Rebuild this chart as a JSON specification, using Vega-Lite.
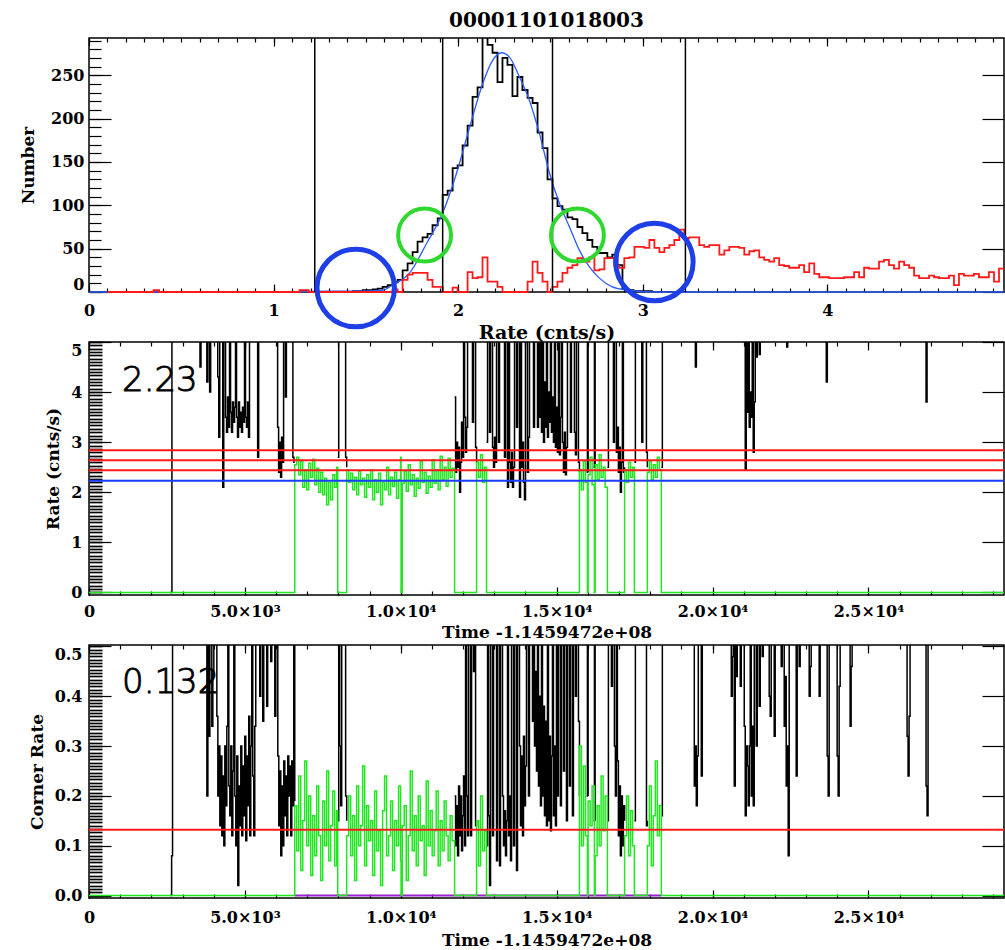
{
"$schema":"https://vega.github.io/schema/vega-lite/v6.json",
"background":"white",
"padding":{"left":18,"top":10,"right":0,"bottom":0},
"spacing":50,
"bounds":"flush",
"config":{
 "view":{"stroke":"black","strokeWidth":1.5},
 "axis":{"domain":false,"grid":false,"labelFont":"DejaVu Serif","labelFontWeight":"bold","labelFontSize":16,"labelColor":"black","titleFont":"DejaVu Serif","titleFontWeight":"bold","titleFontSize":17,"titleColor":"black","tickColor":"black","tickWidth":1.2,"labelFlush":false,"labelOverlap":false}
},
"datasets":{
"hist_black":[{"rate":1.223,"n":0},{"rate":1.43,"n":1},{"rate":1.483,"n":2},{"rate":1.510,"n":2},{"rate":1.537,"n":3},{"rate":1.564,"n":4},{"rate":1.591,"n":6},{"rate":1.618,"n":8},{"rate":1.645,"n":11},{"rate":1.672,"n":14},{"rate":1.699,"n":25},{"rate":1.726,"n":33},{"rate":1.753,"n":46},{"rate":1.780,"n":58},{"rate":1.807,"n":63},{"rate":1.834,"n":67},{"rate":1.861,"n":77},{"rate":1.889,"n":85},{"rate":1.916,"n":112},{"rate":1.943,"n":117},{"rate":1.970,"n":143},{"rate":1.997,"n":146},{"rate":2.024,"n":169},{"rate":2.051,"n":192},{"rate":2.078,"n":225},{"rate":2.105,"n":236},{"rate":2.132,"n":300},{"rate":2.159,"n":285},{"rate":2.186,"n":276},{"rate":2.213,"n":242},{"rate":2.240,"n":270},{"rate":2.267,"n":262},{"rate":2.294,"n":226},{"rate":2.321,"n":248},{"rate":2.348,"n":233},{"rate":2.376,"n":224},{"rate":2.403,"n":218},{"rate":2.430,"n":184},{"rate":2.457,"n":166},{"rate":2.484,"n":130},{"rate":2.511,"n":108},{"rate":2.538,"n":99},{"rate":2.565,"n":95},{"rate":2.592,"n":86},{"rate":2.619,"n":84},{"rate":2.646,"n":75},{"rate":2.673,"n":68},{"rate":2.700,"n":60},{"rate":2.727,"n":52},{"rate":2.754,"n":45},{"rate":2.781,"n":45},{"rate":2.808,"n":40},{"rate":2.835,"n":43},{"rate":2.863,"n":31},{"rate":2.890,"n":4},{"rate":2.917,"n":2},{"rate":2.95,"n":1},{"rate":3.05,"n":0},{"rate":3.231,"n":0}],
"hist_model":[{"rate":0,"n":0},{"rate":1.0,"n":0},{"rate":1.304,"n":1},{"rate":1.45,"n":1},{"rate":1.591,"n":2},{"rate":1.645,"n":8},{"rate":1.737,"n":22},{"rate":1.829,"n":56},{"rate":1.916,"n":91},{"rate":1.991,"n":137},{"rate":2.062,"n":190},{"rate":2.132,"n":240},{"rate":2.186,"n":267},{"rate":2.235,"n":276},{"rate":2.278,"n":271},{"rate":2.332,"n":248},{"rate":2.386,"n":221},{"rate":2.440,"n":183},{"rate":2.495,"n":137},{"rate":2.549,"n":102},{"rate":2.603,"n":75},{"rate":2.657,"n":48},{"rate":2.711,"n":29},{"rate":2.765,"n":16},{"rate":2.835,"n":6},{"rate":2.927,"n":2},{"rate":3.05,"n":0},{"rate":4.957,"n":0}],
"hist_red":[{"rate":0.1,"n":0},{"rate":0.35,"n":2},{"rate":0.38,"n":0},{"rate":1.14,"n":2},{"rate":1.19,"n":0},{"rate":1.645,"n":3},{"rate":1.672,"n":0},{"rate":1.699,"n":14},{"rate":1.726,"n":20},{"rate":1.753,"n":22},{"rate":1.834,"n":14},{"rate":1.861,"n":6},{"rate":1.916,"n":0},{"rate":1.970,"n":5},{"rate":1.997,"n":0},{"rate":2.051,"n":23},{"rate":2.078,"n":16},{"rate":2.105,"n":17},{"rate":2.132,"n":40},{"rate":2.159,"n":12},{"rate":2.213,"n":6},{"rate":2.240,"n":0},{"rate":2.376,"n":12},{"rate":2.403,"n":35},{"rate":2.430,"n":22},{"rate":2.457,"n":12},{"rate":2.484,"n":0},{"rate":2.511,"n":6},{"rate":2.538,"n":12},{"rate":2.565,"n":22},{"rate":2.592,"n":28},{"rate":2.619,"n":31},{"rate":2.646,"n":39},{"rate":2.673,"n":35},{"rate":2.711,"n":40},{"rate":2.738,"n":25},{"rate":2.765,"n":26},{"rate":2.792,"n":39},{"rate":2.819,"n":39},{"rate":2.846,"n":30},{"rate":2.873,"n":28},{"rate":2.900,"n":39},{"rate":2.927,"n":40},{"rate":2.955,"n":52},{"rate":2.982,"n":52},{"rate":3.009,"n":51},{"rate":3.036,"n":60},{"rate":3.063,"n":51},{"rate":3.090,"n":46},{"rate":3.117,"n":51},{"rate":3.144,"n":54},{"rate":3.171,"n":60},{"rate":3.198,"n":72},{"rate":3.225,"n":62},{"rate":3.252,"n":63},{"rate":3.279,"n":63},{"rate":3.306,"n":54},{"rate":3.333,"n":52},{"rate":3.360,"n":54},{"rate":3.387,"n":54},{"rate":3.415,"n":43},{"rate":3.442,"n":48},{"rate":3.469,"n":52},{"rate":3.496,"n":52},{"rate":3.523,"n":51},{"rate":3.550,"n":43},{"rate":3.577,"n":47},{"rate":3.604,"n":48},{"rate":3.631,"n":40},{"rate":3.658,"n":37},{"rate":3.685,"n":35},{"rate":3.712,"n":39},{"rate":3.739,"n":31},{"rate":3.766,"n":30},{"rate":3.793,"n":28},{"rate":3.820,"n":28},{"rate":3.847,"n":31},{"rate":3.874,"n":23},{"rate":3.902,"n":33},{"rate":3.929,"n":21},{"rate":3.956,"n":17},{"rate":3.983,"n":17},{"rate":4.010,"n":16},{"rate":4.037,"n":16},{"rate":4.064,"n":16},{"rate":4.091,"n":17},{"rate":4.118,"n":17},{"rate":4.145,"n":23},{"rate":4.172,"n":17},{"rate":4.199,"n":28},{"rate":4.226,"n":27},{"rate":4.253,"n":27},{"rate":4.280,"n":35},{"rate":4.307,"n":37},{"rate":4.334,"n":31},{"rate":4.361,"n":27},{"rate":4.389,"n":35},{"rate":4.416,"n":31},{"rate":4.443,"n":28},{"rate":4.470,"n":19},{"rate":4.497,"n":16},{"rate":4.524,"n":16},{"rate":4.551,"n":19},{"rate":4.578,"n":17},{"rate":4.605,"n":16},{"rate":4.632,"n":16},{"rate":4.659,"n":19},{"rate":4.686,"n":8},{"rate":4.713,"n":21},{"rate":4.740,"n":19},{"rate":4.767,"n":19},{"rate":4.794,"n":21},{"rate":4.821,"n":17},{"rate":4.848,"n":17},{"rate":4.875,"n":23},{"rate":4.903,"n":12},{"rate":4.930,"n":27},{"rate":4.957,"n":27}],
"hist_cuts":[{"rate":1.223},{"rate":1.916},{"rate":2.511},{"rate":3.231}],
"ring_blue":[{"rate":1.445,"n":4.6},{"rate":3.063,"n":34.6}],
"ring_green":[{"rate":1.818,"n":65.7},{"rate":2.646,"n":65.7}],
"mid_black":[
{"t":2600,"r":0,"s":"A"},{"t":2660,"r":9,"s":"A"},{"t":3560,"r":4.5,"s":"A"},{"t":3592,"r":9,"s":"A"},{"t":3780,"r":4.2,"s":"A"},{"t":3812,"r":9,"s":"A"},{"t":3870,"r":4.0,"s":"A"},{"t":3902,"r":9,"s":"A"},{"t":4130,"r":4.3,"s":"A"},{"t":4162,"r":3.1,"s":"A"},{"t":4194,"r":9,"s":"A"},{"t":4290,"r":2.1,"s":"A"},{"t":4322,"r":9,"s":"A"},{"t":4380,"r":3.5,"s":"A"},{"t":4412,"r":3.2,"s":"A"},{"t":4444,"r":3.9,"s":"A"},{"t":4476,"r":3.3,"s":"A"},{"t":4508,"r":9,"s":"A"},{"t":4540,"r":3.6,"s":"A"},{"t":4572,"r":3.2,"s":"A"},{"t":4604,"r":3.8,"s":"A"},{"t":4636,"r":3.4,"s":"A"},{"t":4668,"r":3.7,"s":"A"},{"t":4700,"r":9,"s":"A"},{"t":4732,"r":3.5,"s":"A"},{"t":4764,"r":3.1,"s":"A"},{"t":4796,"r":3.8,"s":"A"},{"t":4828,"r":3.3,"s":"A"},{"t":4860,"r":3.6,"s":"A"},{"t":4892,"r":3.2,"s":"A"},{"t":4924,"r":3.7,"s":"A"},{"t":4956,"r":3.4,"s":"A"},{"t":4988,"r":9,"s":"A"},{"t":5020,"r":3.5,"s":"A"},{"t":5052,"r":3.3,"s":"A"},{"t":5084,"r":3.8,"s":"A"},{"t":5116,"r":3.1,"s":"A"},{"t":5148,"r":9,"s":"A"},{"t":5410,"r":2.7,"s":"A"},{"t":5442,"r":9,"s":"A"},{"t":6050,"r":3.3,"s":"A"},{"t":6082,"r":2.4,"s":"A"},{"t":6114,"r":3.0,"s":"A"},{"t":6146,"r":2.3,"s":"A"},{"t":6178,"r":3.1,"s":"A"},{"t":6210,"r":2.6,"s":"A"},{"t":6242,"r":9,"s":"A"},{"t":6300,"r":3.9,"s":"A"},{"t":6332,"r":9,"s":"A"},{"t":6540,"r":2.7,"s":"A"},{"t":6572,"r":2.6,"s":"A"},{"t":6600,"r":2.6,"s":"A"},
{"t":7978,"r":2.7,"s":"B"},{"t":8010,"r":9,"s":"B"},{"t":8232,"r":2.7,"s":"B"},{"t":8266,"r":2.5,"s":"B"},
{"t":11727,"r":3.9,"s":"C"},{"t":11759,"r":2.4,"s":"C"},{"t":11791,"r":3.0,"s":"C"},{"t":11823,"r":2.5,"s":"C"},{"t":11855,"r":2.9,"s":"C"},{"t":11887,"r":2.0,"s":"C"},{"t":11919,"r":2.6,"s":"C"},{"t":11951,"r":3.4,"s":"C"},{"t":11983,"r":2.7,"s":"C"},{"t":12015,"r":9,"s":"C"},{"t":12047,"r":3.5,"s":"C"},{"t":12079,"r":2.8,"s":"C"},{"t":12111,"r":3.3,"s":"C"},{"t":12143,"r":9,"s":"C"},{"t":12300,"r":3.4,"s":"C"},{"t":12332,"r":9,"s":"C"},{"t":12400,"r":2.9,"s":"C"},{"t":12432,"r":2.6,"s":"C"},
{"t":12752,"r":3.0,"s":"D"},{"t":12784,"r":9,"s":"D"},{"t":12848,"r":3.2,"s":"D"},{"t":12880,"r":9,"s":"D"},{"t":12944,"r":2.9,"s":"D"},{"t":12976,"r":2.5,"s":"D"},{"t":13008,"r":3.1,"s":"D"},{"t":13040,"r":2.6,"s":"D"},{"t":13072,"r":9,"s":"D"},{"t":13136,"r":3.0,"s":"D"},{"t":13168,"r":9,"s":"D"},{"t":13328,"r":2.7,"s":"D"},{"t":13360,"r":9,"s":"D"},{"t":13424,"r":2.1,"s":"D"},{"t":13456,"r":9,"s":"D"},{"t":13489,"r":2.6,"s":"D"},{"t":13521,"r":2.2,"s":"D"},{"t":13553,"r":2.8,"s":"D"},{"t":13585,"r":2.1,"s":"D"},{"t":13617,"r":2.5,"s":"D"},{"t":13649,"r":9,"s":"D"},{"t":13713,"r":3.3,"s":"D"},{"t":13745,"r":9,"s":"D"},{"t":13809,"r":1.9,"s":"D"},{"t":13841,"r":9,"s":"D"},{"t":13873,"r":2.5,"s":"D"},{"t":13905,"r":3.0,"s":"D"},{"t":13937,"r":2.2,"s":"D"},{"t":13969,"r":1.85,"s":"D"},{"t":14001,"r":9,"s":"D"},{"t":14065,"r":2.4,"s":"D"},{"t":14097,"r":3.1,"s":"D"},{"t":14129,"r":9,"s":"D"},{"t":14258,"r":3.3,"s":"D"},{"t":14290,"r":9,"s":"D"},{"t":14386,"r":3.3,"s":"D"},{"t":14418,"r":9,"s":"D"},{"t":14450,"r":3.5,"s":"D"},{"t":14482,"r":9,"s":"D"},{"t":14514,"r":3.2,"s":"D"},{"t":14546,"r":9,"s":"D"},{"t":14578,"r":3.0,"s":"D"},{"t":14610,"r":4.2,"s":"D"},{"t":14642,"r":3.3,"s":"D"},{"t":14674,"r":9,"s":"D"},{"t":14706,"r":3.1,"s":"D"},{"t":14738,"r":4.0,"s":"D"},{"t":14770,"r":3.4,"s":"D"},{"t":14802,"r":9,"s":"D"},{"t":14834,"r":3.2,"s":"D"},{"t":14866,"r":3.9,"s":"D"},{"t":14898,"r":3.0,"s":"D"},{"t":14930,"r":9,"s":"D"},{"t":14962,"r":2.9,"s":"D"},{"t":14994,"r":3.7,"s":"D"},{"t":15026,"r":2.8,"s":"D"},{"t":15058,"r":9,"s":"D"},{"t":15090,"r":2.75,"s":"D"},{"t":15122,"r":3.5,"s":"D"},{"t":15154,"r":9,"s":"D"},{"t":15187,"r":3.0,"s":"D"},{"t":15219,"r":2.4,"s":"D"},{"t":15251,"r":3.2,"s":"D"},{"t":15283,"r":2.35,"s":"D"},{"t":15315,"r":2.9,"s":"D"},{"t":15347,"r":9,"s":"D"},{"t":15443,"r":3.2,"s":"D"},{"t":15475,"r":9,"s":"D"},{"t":15571,"r":3.2,"s":"D"},{"t":15603,"r":2.75,"s":"D"},{"t":15635,"r":9,"s":"D"},{"t":15700,"r":2.6,"s":"D"},{"t":15732,"r":2.4,"s":"D"},
{"t":15960,"r":2.4,"s":"E1"},{"t":15988,"r":9,"s":"E1"},{"t":16010,"r":2.4,"s":"E1"},
{"t":16180,"r":2.5,"s":"E2"},{"t":16212,"r":9,"s":"E2"},{"t":16235,"r":2.5,"s":"E2"},
{"t":16629,"r":2.5,"s":"F"},{"t":16661,"r":9,"s":"F"},{"t":16821,"r":3.0,"s":"F"},{"t":16853,"r":9,"s":"F"},{"t":16917,"r":2.8,"s":"F"},{"t":16949,"r":3.3,"s":"F"},{"t":16981,"r":2.4,"s":"F"},{"t":17013,"r":2.9,"s":"F"},{"t":17045,"r":2.0,"s":"F"},{"t":17077,"r":2.6,"s":"F"},{"t":17109,"r":9,"s":"F"},{"t":17141,"r":2.4,"s":"F"},{"t":17180,"r":2.5,"s":"F"},
{"t":17494,"r":2.6,"s":"G"},{"t":17526,"r":9,"s":"G"},{"t":17732,"r":3.0,"s":"G"},{"t":17764,"r":9,"s":"G"},{"t":17880,"r":2.8,"s":"G"},{"t":17910,"r":2.5,"s":"G"},
{"t":18359,"r":2.5,"s":"H"},{"t":18391,"r":9,"s":"H"},{"t":19450,"r":4.5,"s":"H"},{"t":19482,"r":9,"s":"H"},{"t":21050,"r":2.45,"s":"H"},{"t":21082,"r":9,"s":"H"},{"t":21114,"r":3.6,"s":"H"},{"t":21146,"r":9,"s":"H"},{"t":21178,"r":3.3,"s":"H"},{"t":21210,"r":4.0,"s":"H"},{"t":21242,"r":3.5,"s":"H"},{"t":21274,"r":9,"s":"H"},{"t":21306,"r":2.8,"s":"H"},{"t":21338,"r":3.8,"s":"H"},{"t":21370,"r":9,"s":"H"},{"t":21403,"r":4.7,"s":"H"},{"t":21435,"r":9,"s":"H"},{"t":21500,"r":4.75,"s":"H"},{"t":21532,"r":9,"s":"H"},{"t":22380,"r":4.9,"s":"H"},{"t":22412,"r":9,"s":"H"},{"t":23650,"r":4.2,"s":"H"},{"t":23682,"r":9,"s":"H"},{"t":26850,"r":3.8,"s":"H"},{"t":26882,"r":9,"s":"H"},{"t":29350,"r":9,"s":"H"}],
"mid_green":[{"t":0,"r":0},
{"t":6600,"r":2.55},{"t":6664,"r":2.70},{"t":6728,"r":2.35},{"t":6792,"r":2.62},{"t":6856,"r":2.10},{"t":6920,"r":2.45},{"t":6984,"r":2.05},{"t":7048,"r":2.58},{"t":7112,"r":2.30},{"t":7176,"r":2.66},{"t":7240,"r":2.15},{"t":7304,"r":2.48},{"t":7368,"r":2.00},{"t":7432,"r":2.40},{"t":7496,"r":1.95},{"t":7560,"r":2.28},{"t":7624,"r":1.75},{"t":7688,"r":2.20},{"t":7752,"r":1.85},{"t":7816,"r":2.35},{"t":7880,"r":2.10},{"t":7944,"r":2.50},{"t":7978,"r":0},
{"t":8266,"r":2.45},{"t":8330,"r":2.20},{"t":8394,"r":2.38},{"t":8458,"r":2.05},{"t":8522,"r":2.30},{"t":8586,"r":1.95},{"t":8650,"r":2.42},{"t":8714,"r":2.15},{"t":8778,"r":2.28},{"t":8842,"r":1.90},{"t":8906,"r":2.35},{"t":8970,"r":2.10},{"t":9034,"r":2.45},{"t":9098,"r":1.85},{"t":9162,"r":2.25},{"t":9226,"r":2.00},{"t":9290,"r":2.38},{"t":9354,"r":1.75},{"t":9418,"r":2.20},{"t":9482,"r":2.05},{"t":9546,"r":2.50},{"t":9610,"r":1.95},{"t":9674,"r":2.30},{"t":9738,"r":2.12},{"t":9802,"r":2.40},{"t":9866,"r":1.88},{"t":9930,"r":2.25},{"t":9994,"r":2.70},{"t":10010,"r":0},{"t":10048,"r":2.18},{"t":10112,"r":2.42},{"t":10176,"r":2.02},{"t":10240,"r":2.55},{"t":10304,"r":2.15},{"t":10368,"r":2.35},{"t":10432,"r":1.92},{"t":10496,"r":2.28},{"t":10560,"r":2.08},{"t":10624,"r":2.62},{"t":10688,"r":2.20},{"t":10752,"r":2.40},{"t":10816,"r":1.98},{"t":10880,"r":2.32},{"t":10944,"r":2.10},{"t":11008,"r":2.65},{"t":11072,"r":2.18},{"t":11136,"r":2.45},{"t":11200,"r":2.05},{"t":11264,"r":2.72},{"t":11328,"r":2.25},{"t":11392,"r":2.50},{"t":11456,"r":2.12},{"t":11520,"r":2.68},{"t":11584,"r":2.30},{"t":11648,"r":2.48},{"t":11727,"r":0},
{"t":12432,"r":2.60},{"t":12496,"r":2.30},{"t":12560,"r":2.75},{"t":12624,"r":2.20},{"t":12688,"r":2.50},{"t":12752,"r":0},
{"t":15732,"r":2.45},{"t":15796,"r":2.05},{"t":15860,"r":2.62},{"t":15924,"r":2.20},{"t":15988,"r":0},{"t":16010,"r":2.35},{"t":16074,"r":2.70},{"t":16138,"r":2.15},{"t":16212,"r":0},{"t":16235,"r":2.55},{"t":16299,"r":2.25},{"t":16363,"r":2.75},{"t":16427,"r":2.30},{"t":16491,"r":2.50},{"t":16555,"r":2.10},{"t":16629,"r":0},
{"t":17180,"r":2.45},{"t":17244,"r":2.20},{"t":17308,"r":2.60},{"t":17372,"r":2.30},{"t":17436,"r":2.50},{"t":17494,"r":0},
{"t":17910,"r":2.40},{"t":17974,"r":2.62},{"t":18038,"r":2.25},{"t":18102,"r":2.55},{"t":18166,"r":2.30},{"t":18230,"r":2.70},{"t":18294,"r":2.45},{"t":18359,"r":0},
{"t":29350,"r":0}],
"mid_red":[{"v":2.44,"t0":0,"t1":29350},{"v":2.64,"t0":0,"t1":29350},{"v":2.84,"t0":0,"t1":29350}],
"mid_blue":[{"v":2.23,"t0":0,"t1":29350}],
"bot_black":[
{"t":2600,"r":0,"s":"A"},{"t":2650,"r":0.08,"s":"A"},{"t":2680,"r":0.9,"s":"A"},{"t":3781,"r":0.2,"s":"A"},{"t":3813,"r":0.9,"s":"A"},{"t":3845,"r":0.32,"s":"A"},{"t":3877,"r":0.9,"s":"A"},{"t":3940,"r":0.34,"s":"A"},{"t":3972,"r":0.45,"s":"A"},{"t":4004,"r":0.9,"s":"A"},{"t":4101,"r":0.36,"s":"A"},{"t":4133,"r":0.2,"s":"A"},{"t":4165,"r":0.3,"s":"A"},{"t":4197,"r":0.14,"s":"A"},{"t":4229,"r":0.28,"s":"A"},{"t":4261,"r":0.12,"s":"A"},{"t":4293,"r":0.24,"s":"A"},{"t":4325,"r":0.1,"s":"A"},{"t":4357,"r":0.3,"s":"A"},{"t":4389,"r":0.18,"s":"A"},{"t":4421,"r":0.34,"s":"A"},{"t":4453,"r":0.9,"s":"A"},{"t":4485,"r":0.22,"s":"A"},{"t":4517,"r":0.16,"s":"A"},{"t":4549,"r":0.3,"s":"A"},{"t":4581,"r":0.12,"s":"A"},{"t":4613,"r":0.25,"s":"A"},{"t":4645,"r":0.9,"s":"A"},{"t":4677,"r":0.2,"s":"A"},{"t":4709,"r":0.1,"s":"A"},{"t":4741,"r":0.28,"s":"A"},{"t":4773,"r":0.02,"s":"A"},{"t":4805,"r":0.22,"s":"A"},{"t":4837,"r":0.14,"s":"A"},{"t":4869,"r":0.3,"s":"A"},{"t":4901,"r":0.12,"s":"A"},{"t":4933,"r":0.26,"s":"A"},{"t":4965,"r":0.16,"s":"A"},{"t":4997,"r":0.32,"s":"A"},{"t":5029,"r":0.11,"s":"A"},{"t":5061,"r":0.28,"s":"A"},{"t":5093,"r":0.18,"s":"A"},{"t":5125,"r":0.36,"s":"A"},{"t":5157,"r":0.12,"s":"A"},{"t":5189,"r":0.3,"s":"A"},{"t":5221,"r":0.9,"s":"A"},{"t":5253,"r":0.24,"s":"A"},{"t":5285,"r":0.12,"s":"A"},{"t":5317,"r":0.34,"s":"A"},{"t":5349,"r":0.9,"s":"A"},{"t":5477,"r":0.4,"s":"A"},{"t":5509,"r":0.9,"s":"A"},{"t":5573,"r":0.35,"s":"A"},{"t":5605,"r":0.9,"s":"A"},{"t":5700,"r":0.38,"s":"A"},{"t":5732,"r":0.9,"s":"A"},{"t":5830,"r":0.47,"s":"A"},{"t":5862,"r":0.9,"s":"A"},{"t":5960,"r":0.36,"s":"A"},{"t":5992,"r":0.9,"s":"A"},{"t":6056,"r":0.28,"s":"A"},{"t":6088,"r":0.14,"s":"A"},{"t":6120,"r":0.25,"s":"A"},{"t":6152,"r":0.08,"s":"A"},{"t":6184,"r":0.22,"s":"A"},{"t":6216,"r":0.1,"s":"A"},{"t":6248,"r":0.27,"s":"A"},{"t":6280,"r":0.16,"s":"A"},{"t":6312,"r":0.24,"s":"A"},{"t":6344,"r":0.12,"s":"A"},{"t":6376,"r":0.28,"s":"A"},{"t":6408,"r":0.2,"s":"A"},{"t":6440,"r":0.26,"s":"A"},{"t":6472,"r":0.12,"s":"A"},{"t":6504,"r":0.27,"s":"A"},{"t":6536,"r":0.18,"s":"A"},{"t":6568,"r":0.9,"s":"A"},{"t":6600,"r":0.19,"s":"A"},
{"t":7978,"r":0.15,"s":"B"},{"t":8010,"r":0.9,"s":"B"},{"t":8042,"r":0.3,"s":"B"},{"t":8074,"r":0.18,"s":"B"},{"t":8106,"r":0.9,"s":"B"},{"t":8232,"r":0.2,"s":"B"},{"t":8266,"r":0.15,"s":"B"},
{"t":11727,"r":0.2,"s":"C"},{"t":11759,"r":0.1,"s":"C"},{"t":11791,"r":0.18,"s":"C"},{"t":11823,"r":0.08,"s":"C"},{"t":11855,"r":0.22,"s":"C"},{"t":11887,"r":0.12,"s":"C"},{"t":11919,"r":0.2,"s":"C"},{"t":11951,"r":0.09,"s":"C"},{"t":11983,"r":0.16,"s":"C"},{"t":12015,"r":0.24,"s":"C"},{"t":12047,"r":0.1,"s":"C"},{"t":12079,"r":0.9,"s":"C"},{"t":12111,"r":0.2,"s":"C"},{"t":12143,"r":0.12,"s":"C"},{"t":12175,"r":0.9,"s":"C"},{"t":12240,"r":0.12,"s":"C"},{"t":12272,"r":0.9,"s":"C"},{"t":12336,"r":0.45,"s":"C"},{"t":12368,"r":0.9,"s":"C"},{"t":12400,"r":0.14,"s":"C"},{"t":12432,"r":0.15,"s":"C"},
{"t":12752,"r":0.1,"s":"D"},{"t":12784,"r":0.9,"s":"D"},{"t":12816,"r":0.16,"s":"D"},{"t":12848,"r":0.02,"s":"D"},{"t":12880,"r":0.9,"s":"D"},{"t":12944,"r":0.12,"s":"D"},{"t":12976,"r":0.9,"s":"D"},{"t":13072,"r":0.07,"s":"D"},{"t":13104,"r":0.9,"s":"D"},{"t":13168,"r":0.06,"s":"D"},{"t":13200,"r":0.9,"s":"D"},{"t":13264,"r":0.2,"s":"D"},{"t":13296,"r":0.1,"s":"D"},{"t":13328,"r":0.17,"s":"D"},{"t":13360,"r":0.08,"s":"D"},{"t":13392,"r":0.15,"s":"D"},{"t":13424,"r":0.9,"s":"D"},{"t":13456,"r":0.12,"s":"D"},{"t":13489,"r":0.2,"s":"D"},{"t":13521,"r":0.07,"s":"D"},{"t":13553,"r":0.9,"s":"D"},{"t":13617,"r":0.1,"s":"D"},{"t":13649,"r":0.9,"s":"D"},{"t":13713,"r":0.05,"s":"D"},{"t":13745,"r":0.9,"s":"D"},{"t":13809,"r":0.3,"s":"D"},{"t":13841,"r":0.14,"s":"D"},{"t":13873,"r":0.28,"s":"D"},{"t":13905,"r":0.12,"s":"D"},{"t":13937,"r":0.32,"s":"D"},{"t":13969,"r":0.18,"s":"D"},{"t":14001,"r":0.26,"s":"D"},{"t":14033,"r":0.9,"s":"D"},{"t":14097,"r":0.2,"s":"D"},{"t":14129,"r":0.9,"s":"D"},{"t":14226,"r":0.35,"s":"D"},{"t":14258,"r":0.9,"s":"D"},{"t":14290,"r":0.3,"s":"D"},{"t":14322,"r":0.45,"s":"D"},{"t":14354,"r":0.25,"s":"D"},{"t":14386,"r":0.9,"s":"D"},{"t":14418,"r":0.22,"s":"D"},{"t":14450,"r":0.4,"s":"D"},{"t":14482,"r":0.18,"s":"D"},{"t":14514,"r":0.9,"s":"D"},{"t":14546,"r":0.2,"s":"D"},{"t":14578,"r":0.38,"s":"D"},{"t":14610,"r":0.16,"s":"D"},{"t":14642,"r":0.35,"s":"D"},{"t":14674,"r":0.14,"s":"D"},{"t":14706,"r":0.9,"s":"D"},{"t":14738,"r":0.15,"s":"D"},{"t":14770,"r":0.32,"s":"D"},{"t":14802,"r":0.13,"s":"D"},{"t":14834,"r":0.28,"s":"D"},{"t":14866,"r":0.9,"s":"D"},{"t":14898,"r":0.16,"s":"D"},{"t":14930,"r":0.3,"s":"D"},{"t":14962,"r":0.14,"s":"D"},{"t":14994,"r":0.9,"s":"D"},{"t":15026,"r":0.2,"s":"D"},{"t":15058,"r":0.9,"s":"D"},{"t":15122,"r":0.18,"s":"D"},{"t":15154,"r":0.9,"s":"D"},{"t":15219,"r":0.25,"s":"D"},{"t":15251,"r":0.9,"s":"D"},{"t":15315,"r":0.15,"s":"D"},{"t":15347,"r":0.9,"s":"D"},{"t":15411,"r":0.22,"s":"D"},{"t":15443,"r":0.9,"s":"D"},{"t":15507,"r":0.16,"s":"D"},{"t":15539,"r":0.9,"s":"D"},{"t":15603,"r":0.4,"s":"D"},{"t":15635,"r":0.9,"s":"D"},{"t":15700,"r":0.35,"s":"D"},{"t":15732,"r":0.2,"s":"D"},
{"t":15960,"r":0.2,"s":"E1"},{"t":15988,"r":0.9,"s":"E1"},{"t":16010,"r":0.2,"s":"E1"},
{"t":16180,"r":0.15,"s":"E2"},{"t":16212,"r":0.9,"s":"E2"},{"t":16235,"r":0.15,"s":"E2"},
{"t":16629,"r":0.15,"s":"F"},{"t":16661,"r":0.9,"s":"F"},{"t":16757,"r":0.42,"s":"F"},{"t":16789,"r":0.9,"s":"F"},{"t":16853,"r":0.3,"s":"F"},{"t":16885,"r":0.2,"s":"F"},{"t":16917,"r":0.9,"s":"F"},{"t":16949,"r":0.27,"s":"F"},{"t":16981,"r":0.12,"s":"F"},{"t":17013,"r":0.22,"s":"F"},{"t":17045,"r":0.08,"s":"F"},{"t":17077,"r":0.2,"s":"F"},{"t":17109,"r":0.1,"s":"F"},{"t":17141,"r":0.18,"s":"F"},{"t":17180,"r":0.15,"s":"F"},
{"t":17494,"r":0.15,"s":"G"},{"t":17526,"r":0.9,"s":"G"},{"t":17882,"r":0.14,"s":"G"},{"t":17910,"r":0.15,"s":"G"},
{"t":18359,"r":0.16,"s":"H"},{"t":18391,"r":0.9,"s":"H"},{"t":19416,"r":0.22,"s":"H"},{"t":19448,"r":0.3,"s":"H"},{"t":19480,"r":0.18,"s":"H"},{"t":19512,"r":0.28,"s":"H"},{"t":19544,"r":0.9,"s":"H"},{"t":19640,"r":0.24,"s":"H"},{"t":19672,"r":0.9,"s":"H"},{"t":20602,"r":0.4,"s":"H"},{"t":20634,"r":0.48,"s":"H"},{"t":20666,"r":0.9,"s":"H"},{"t":20698,"r":0.22,"s":"H"},{"t":20730,"r":0.9,"s":"H"},{"t":20762,"r":0.44,"s":"H"},{"t":20794,"r":0.9,"s":"H"},{"t":20890,"r":0.42,"s":"H"},{"t":20922,"r":0.9,"s":"H"},{"t":21018,"r":0.34,"s":"H"},{"t":21050,"r":0.16,"s":"H"},{"t":21082,"r":0.3,"s":"H"},{"t":21114,"r":0.26,"s":"H"},{"t":21146,"r":0.18,"s":"H"},{"t":21178,"r":0.3,"s":"H"},{"t":21210,"r":0.9,"s":"H"},{"t":21242,"r":0.2,"s":"H"},{"t":21274,"r":0.34,"s":"H"},{"t":21307,"r":0.18,"s":"H"},{"t":21339,"r":0.9,"s":"H"},{"t":21403,"r":0.3,"s":"H"},{"t":21435,"r":0.9,"s":"H"},{"t":21499,"r":0.38,"s":"H"},{"t":21531,"r":0.9,"s":"H"},{"t":21595,"r":0.48,"s":"H"},{"t":21627,"r":0.9,"s":"H"},{"t":21819,"r":0.4,"s":"H"},{"t":21851,"r":0.36,"s":"H"},{"t":21883,"r":0.9,"s":"H"},{"t":21979,"r":0.32,"s":"H"},{"t":22011,"r":0.9,"s":"H"},{"t":22204,"r":0.46,"s":"H"},{"t":22236,"r":0.9,"s":"H"},{"t":22300,"r":0.34,"s":"H"},{"t":22332,"r":0.44,"s":"H"},{"t":22364,"r":0.22,"s":"H"},{"t":22396,"r":0.3,"s":"H"},{"t":22428,"r":0.08,"s":"H"},{"t":22460,"r":0.9,"s":"H"},{"t":22684,"r":0.24,"s":"H"},{"t":22716,"r":0.9,"s":"H"},{"t":22780,"r":0.46,"s":"H"},{"t":22812,"r":0.9,"s":"H"},{"t":23101,"r":0.4,"s":"H"},{"t":23133,"r":0.46,"s":"H"},{"t":23165,"r":0.9,"s":"H"},{"t":23421,"r":0.4,"s":"H"},{"t":23453,"r":0.9,"s":"H"},{"t":23678,"r":0.28,"s":"H"},{"t":23710,"r":0.2,"s":"H"},{"t":23742,"r":0.9,"s":"H"},{"t":23998,"r":0.28,"s":"H"},{"t":24030,"r":0.2,"s":"H"},{"t":24062,"r":0.42,"s":"H"},{"t":24094,"r":0.9,"s":"H"},{"t":24414,"r":0.34,"s":"H"},{"t":24446,"r":0.46,"s":"H"},{"t":24478,"r":0.9,"s":"H"},{"t":26241,"r":0.32,"s":"H"},{"t":26273,"r":0.24,"s":"H"},{"t":26305,"r":0.36,"s":"H"},{"t":26337,"r":0.9,"s":"H"},{"t":26850,"r":0.22,"s":"H"},{"t":26882,"r":0.16,"s":"H"},{"t":26914,"r":0.9,"s":"H"},{"t":29350,"r":0.9,"s":"H"}],
"bot_green":[{"t":0,"r":0},
{"t":6600,"r":0.18},{"t":6664,"r":0.09},{"t":6728,"r":0.24},{"t":6792,"r":0.05},{"t":6856,"r":0.15},{"t":6920,"r":0.27},{"t":6984,"r":0.10},{"t":7048,"r":0.20},{"t":7112,"r":0.04},{"t":7176,"r":0.16},{"t":7240,"r":0.08},{"t":7304,"r":0.22},{"t":7368,"r":0.12},{"t":7432,"r":0.03},{"t":7496,"r":0.19},{"t":7560,"r":0.10},{"t":7624,"r":0.25},{"t":7688,"r":0.07},{"t":7752,"r":0.14},{"t":7816,"r":0.21},{"t":7880,"r":0.06},{"t":7944,"r":0.17},{"t":7978,"r":0},
{"t":8266,"r":0.12},{"t":8330,"r":0.20},{"t":8394,"r":0.08},{"t":8458,"r":0.16},{"t":8522,"r":0.03},{"t":8586,"r":0.22},{"t":8650,"r":0.10},{"t":8714,"r":0.14},{"t":8778,"r":0.26},{"t":8842,"r":0.06},{"t":8906,"r":0.18},{"t":8970,"r":0.11},{"t":9034,"r":0.15},{"t":9098,"r":0.04},{"t":9162,"r":0.21},{"t":9226,"r":0.09},{"t":9290,"r":0.13},{"t":9354,"r":0.02},{"t":9418,"r":0.17},{"t":9482,"r":0.24},{"t":9546,"r":0.08},{"t":9610,"r":0.12},{"t":9674,"r":0.19},{"t":9738,"r":0.05},{"t":9802,"r":0.15},{"t":9866,"r":0.10},{"t":9930,"r":0.22},{"t":9994,"r":0.07},{"t":10010,"r":0},{"t":10048,"r":0.14},{"t":10112,"r":0.18},{"t":10176,"r":0.03},{"t":10240,"r":0.12},{"t":10304,"r":0.25},{"t":10368,"r":0.09},{"t":10432,"r":0.16},{"t":10496,"r":0.06},{"t":10560,"r":0.20},{"t":10624,"r":0.11},{"t":10688,"r":0.14},{"t":10752,"r":0.04},{"t":10816,"r":0.23},{"t":10880,"r":0.10},{"t":10944,"r":0.17},{"t":11008,"r":0.08},{"t":11072,"r":0.13},{"t":11136,"r":0.21},{"t":11200,"r":0.06},{"t":11264,"r":0.15},{"t":11328,"r":0.09},{"t":11392,"r":0.19},{"t":11456,"r":0.12},{"t":11520,"r":0.07},{"t":11584,"r":0.16},{"t":11648,"r":0.11},{"t":11727,"r":0},
{"t":12432,"r":0.15},{"t":12496,"r":0.06},{"t":12560,"r":0.20},{"t":12624,"r":0.09},{"t":12688,"r":0.13},{"t":12752,"r":0},
{"t":15732,"r":0.30},{"t":15796,"r":0.10},{"t":15860,"r":0.26},{"t":15924,"r":0.12},{"t":15988,"r":0},{"t":16010,"r":0.19},{"t":16074,"r":0.14},{"t":16138,"r":0.22},{"t":16212,"r":0},{"t":16235,"r":0.08},{"t":16299,"r":0.18},{"t":16363,"r":0.10},{"t":16427,"r":0.24},{"t":16491,"r":0.13},{"t":16555,"r":0.20},{"t":16629,"r":0},
{"t":17180,"r":0.12},{"t":17244,"r":0.20},{"t":17308,"r":0.08},{"t":17372,"r":0.17},{"t":17436,"r":0.10},{"t":17494,"r":0},
{"t":17910,"r":0.10},{"t":17974,"r":0.22},{"t":18038,"r":0.06},{"t":18102,"r":0.16},{"t":18166,"r":0.27},{"t":18230,"r":0.12},{"t":18294,"r":0.18},{"t":18359,"r":0},
{"t":29350,"r":0}],
"bot_purple":[{"t":6600,"r":0},{"t":18359,"r":0}],
"bot_red":[{"v":0.132,"t0":0,"t1":29350}]
},
"vconcat":[
{
 "width":915,"height":254,
 "title":{"text":"00001101018003","font":"DejaVu Serif","fontWeight":"bold","fontSize":20,"offset":-10,"baseline":"alphabetic","anchor":"middle","frame":"group","color":"black"},
 "resolve":{"axis":{"x":"independent","y":"independent"}},
 "layer":[
  {"data":{"name":"hist_black"},"mark":{"type":"line","interpolate":"step-after","color":"black","strokeWidth":1.8,"clip":true},
   "encoding":{
    "x":{"field":"rate","type":"quantitative","scale":{"domain":[0,4.957],"nice":false,"zero":false},"axis":{"orient":"bottom","values":[0,1,2,3,4],"format":"d","tickSize":-8,"labelPadding":18,"title":"Rate (cnts/s)","titleFontSize":19,"titleY":46,"titleBaseline":"alphabetic"}},
    "y":{"field":"n","type":"quantitative","scale":{"domain":[0,293],"nice":false,"zero":false},"axis":{"orient":"left","values":[0,50,100,150,200,250],"tickSize":-22,"labelPadding":27,"labelFlush":2,"title":"Number","titleX":-56,"titleBaseline":"alphabetic"}}}},
  {"data":{"name":"hist_model"},"mark":{"type":"line","interpolate":"monotone","color":"#2a5cff","strokeWidth":1.3},
   "encoding":{
    "x":{"field":"rate","type":"quantitative","scale":{"domain":[0,4.957],"nice":false,"zero":false},"axis":{"orient":"bottom","values":{"expr":"sequence(0,4.95,0.1)"},"tickSize":-4,"labels":false,"title":null}},
    "y":{"field":"n","type":"quantitative","scale":{"domain":[0,293],"nice":false,"zero":false},"axis":{"orient":"left","values":{"expr":"sequence(0,293,10)"},"tickSize":-12,"labels":false,"title":null}}}},
  {"data":{"name":"hist_red"},"mark":{"type":"line","interpolate":"step-after","color":"#ff1a1a","strokeWidth":1.8},
   "encoding":{
    "x":{"field":"rate","type":"quantitative","scale":{"domain":[0,4.957],"nice":false,"zero":false},"axis":{"orient":"top","values":[0,1,2,3,4],"tickSize":-8,"labels":false,"title":null}},
    "y":{"field":"n","type":"quantitative","scale":{"domain":[0,293],"nice":false,"zero":false},"axis":{"orient":"right","values":[0,50,100,150,200,250],"tickSize":-22,"labels":false,"title":null}}}},
  {"data":{"name":"hist_cuts"},"mark":{"type":"rule","color":"black","strokeWidth":1.5},
   "encoding":{"x":{"field":"rate","type":"quantitative","axis":null}}},
  {"data":{"name":"ring_blue"},"mark":{"type":"point","shape":"circle","filled":false,"stroke":"#1f3fe6","strokeWidth":5,"size":6000,"opacity":1},
   "encoding":{
    "x":{"field":"rate","type":"quantitative","axis":{"orient":"top","values":{"expr":"sequence(0,4.95,0.1)"},"tickSize":-4,"labels":false,"title":null}},
    "y":{"field":"n","type":"quantitative","axis":null}}},
  {"data":{"name":"ring_green"},"mark":{"type":"point","shape":"circle","filled":false,"stroke":"#2fd82f","strokeWidth":4,"size":2800,"opacity":1},
   "encoding":{
    "x":{"field":"rate","type":"quantitative","axis":null},
    "y":{"field":"n","type":"quantitative","axis":null}}}
 ]
},
{
 "width":915,"height":253,
 "resolve":{"axis":{"x":"independent","y":"independent"}},
 "layer":[
  {"data":{"name":"mid_black"},"mark":{"type":"line","interpolate":"step-after","color":"black","strokeWidth":1.5,"clip":true},
   "encoding":{
    "x":{"field":"t","type":"quantitative","scale":{"domain":[0,29350],"nice":false,"zero":false},"axis":{"orient":"bottom","values":[0,5000,10000,15000,20000,25000],"labelExpr":"datum.value == 0 ? '0' : datum.value == 5000 ? '5.0×10³' : format(datum.value / 10000, '.1f') + '×10⁴'","tickSize":-8,"labelPadding":16,"title":"Time -1.1459472e+08","titleY":42,"titleBaseline":"alphabetic"}},
    "y":{"field":"r","type":"quantitative","scale":{"domain":[-0.05,5],"nice":false,"zero":false},"axis":{"orient":"left","values":[0,1,2,3,4,5],"tickSize":-22,"labelPadding":29,"labelFlush":2,"title":"Rate (cnts/s)","titleX":-31,"titleBaseline":"alphabetic"}},
    "detail":{"field":"s","type":"nominal"}}},
  {"data":{"name":"mid_green"},"mark":{"type":"line","interpolate":"step-after","color":"#22e622","strokeWidth":1.5},
   "encoding":{
    "x":{"field":"t","type":"quantitative","scale":{"domain":[0,29350],"nice":false,"zero":false},"axis":{"orient":"bottom","values":{"expr":"sequence(0,29350,1000)"},"tickSize":-4,"labels":false,"title":null}},
    "y":{"field":"r","type":"quantitative","scale":{"domain":[-0.05,5],"nice":false,"zero":false},"axis":{"orient":"left","values":{"expr":"sequence(0,5.001,1/15)"},"tickSize":-13,"tickWidth":1.7,"labels":false,"title":null}}}},
  {"data":{"name":"mid_red"},"mark":{"type":"rule","color":"#ff1a1a","strokeWidth":2},
   "encoding":{
    "x":{"field":"t0","type":"quantitative","axis":{"orient":"top","values":[0,5000,10000,15000,20000,25000],"tickSize":-8,"labels":false,"title":null}},
    "x2":{"field":"t1"},
    "y":{"field":"v","type":"quantitative","axis":{"orient":"right","values":[0,1,2,3,4,5],"tickSize":-22,"labels":false,"title":null}}}},
  {"data":{"name":"mid_blue"},"mark":{"type":"rule","color":"#1a3cff","strokeWidth":2},
   "encoding":{
    "x":{"field":"t0","type":"quantitative","axis":{"orient":"top","values":{"expr":"sequence(0,29350,1000)"},"tickSize":-4,"labels":false,"title":null}},
    "x2":{"field":"t1"},
    "y":{"field":"v","type":"quantitative","axis":null}}},
  {"data":{"name":"mid_blue"},"mark":{"type":"text","font":"DejaVu Sans","fontWeight":200,"fontSize":34,"align":"left","baseline":"alphabetic","color":"black","stroke":"black","strokeWidth":0.9},
   "encoding":{
    "x":{"datum":1060,"type":"quantitative","axis":null},
    "y":{"datum":4.02,"type":"quantitative","axis":null},
    "text":{"field":"v","type":"quantitative","format":".2f"}}}
 ]
},
{
 "width":915,"height":253,
 "resolve":{"axis":{"x":"independent","y":"independent"}},
 "layer":[
  {"data":{"name":"bot_black"},"mark":{"type":"line","interpolate":"step-after","color":"black","strokeWidth":1.5,"clip":true},
   "encoding":{
    "x":{"field":"t","type":"quantitative","scale":{"domain":[0,29350],"nice":false,"zero":false},"axis":{"orient":"bottom","values":[0,5000,10000,15000,20000,25000],"labelExpr":"datum.value == 0 ? '0' : datum.value == 5000 ? '5.0×10³' : format(datum.value / 10000, '.1f') + '×10⁴'","tickSize":-8,"labelPadding":19,"title":"Time -1.1459472e+08","titleY":47,"titleBaseline":"alphabetic"}},
    "y":{"field":"r","type":"quantitative","scale":{"domain":[-0.005,0.503],"nice":false,"zero":false},"axis":{"orient":"left","values":[0,0.1,0.2,0.3,0.4,0.5],"format":".1f","tickSize":-22,"labelPadding":29,"labelFlush":2,"title":"Corner Rate","titleX":-47,"titleBaseline":"alphabetic"}},
    "detail":{"field":"s","type":"nominal"}}},
  {"data":{"name":"bot_purple"},"mark":{"type":"line","color":"#9a22cc","strokeWidth":2},
   "encoding":{
    "x":{"field":"t","type":"quantitative","scale":{"domain":[0,29350],"nice":false,"zero":false},"axis":{"orient":"top","values":{"expr":"sequence(0,29350,1000)"},"tickSize":-4,"labels":false,"title":null}},
    "y":{"field":"r","type":"quantitative","scale":{"domain":[-0.005,0.503],"nice":false,"zero":false},"axis":null}}},
  {"data":{"name":"bot_green"},"mark":{"type":"line","interpolate":"step-after","color":"#22e622","strokeWidth":1.5},
   "encoding":{
    "x":{"field":"t","type":"quantitative","scale":{"domain":[0,29350],"nice":false,"zero":false},"axis":{"orient":"bottom","values":{"expr":"sequence(0,29350,1000)"},"tickSize":-4,"labels":false,"title":null}},
    "y":{"field":"r","type":"quantitative","scale":{"domain":[-0.005,0.503],"nice":false,"zero":false},"axis":{"orient":"left","values":{"expr":"sequence(0,0.5001,1/150)"},"tickSize":-13,"tickWidth":1.7,"labels":false,"title":null}}}},
  {"data":{"name":"bot_red"},"mark":{"type":"rule","color":"#ff1a1a","strokeWidth":2},
   "encoding":{
    "x":{"field":"t0","type":"quantitative","axis":{"orient":"top","values":[0,5000,10000,15000,20000,25000],"tickSize":-8,"labels":false,"title":null}},
    "x2":{"field":"t1"},
    "y":{"field":"v","type":"quantitative","axis":{"orient":"right","values":[0,0.1,0.2,0.3,0.4,0.5],"tickSize":-22,"labels":false,"title":null}}}},
  {"data":{"name":"bot_red"},"mark":{"type":"text","font":"DejaVu Sans","fontWeight":200,"fontSize":34,"align":"left","baseline":"alphabetic","color":"black","stroke":"black","strokeWidth":0.9},
   "encoding":{
    "x":{"datum":1060,"type":"quantitative","axis":null},
    "y":{"datum":0.406,"type":"quantitative","axis":null},
    "text":{"field":"v","type":"quantitative","format":".3f"}}}
 ]
}
]
}
